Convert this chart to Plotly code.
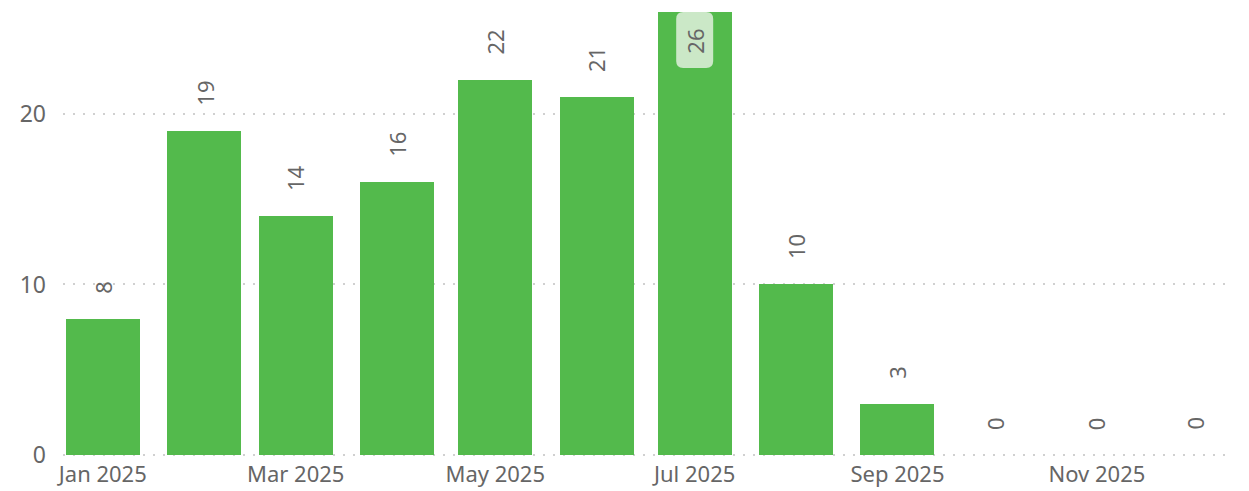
import plotly.graph_objects as go

months = ["2025-01-01", "2025-02-01", "2025-03-01", "2025-04-01", "2025-05-01", "2025-06-01",
          "2025-07-01", "2025-08-01", "2025-09-01", "2025-10-01", "2025-11-01", "2025-12-01"]
values = [8, 19, 14, 16, 22, 21, 26, 10, 3, 0, 0, 0]
y_ticks = [0, 10, 20]

GREEN = "#53BA4C"
TXT = "#666666"
FONT = "Noto Sans, Open Sans, sans-serif"
DAY = 86400000
OFF = 8  # default page body margin

fig = go.Figure()
fig.add_trace(go.Bar(
    x=months, y=values, marker_color=GREEN, marker_line_width=0,
    width=[22.6 * DAY] * len(values), hoverinfo="x+y",
))

ymax = 26.1
annotations = []
shapes = []
for m, v in zip(months, values):
    if v >= ymax - 1:
        x0, x1, y0, y1, r = -18.5, 18.5, -58, -2, 7
        path = (f"M {x0+r},{y1} L {x1-r},{y1} Q {x1},{y1} {x1},{y1-r} L {x1},{y0+r} "
                f"Q {x1},{y0} {x1-r},{y0} L {x0+r},{y0} Q {x0},{y0} {x0},{y0+r} "
                f"L {x0},{y1-r} Q {x0},{y1} {x0+r},{y1} Z")
        shapes.append(dict(type="path", xref="x", yref="y", xsizemode="pixel", ysizemode="pixel",
                           xanchor=m, yanchor=ymax, path=path, fillcolor="#CBE8C7",
                           line=dict(width=0), layer="above"))
        annotations.append(dict(
            x=m, y=ymax, text=str(v), textangle=-90, showarrow=False,
            yanchor="middle", yshift=-31, font=dict(size=22, color=TXT, family=FONT),
        ))
    else:
        annotations.append(dict(
            x=m, y=v, text=str(v), textangle=-90, showarrow=False,
            yanchor="bottom", yshift=23, font=dict(size=22, color=TXT, family=FONT),
        ))

fig.update_layout(
    width=1249 - OFF, height=491 - OFF,
    margin=dict(l=63 - OFF, r=21, t=10 - OFF, b=34, autoexpand=False),
    paper_bgcolor="white", plot_bgcolor="white",
    showlegend=False,
    font=dict(family=FONT, color=TXT),
    annotations=annotations,
    shapes=shapes,
    xaxis=dict(
        type="date", range=["2024-12-19 20:00", "2025-12-11 02:00"],
        dtick="M2", tick0="2025-01-01", tickformat="%b %Y", automargin=False,
        showgrid=False, zeroline=False, showline=False, ticks="",
        tickfont=dict(size=22, color=TXT, family=FONT), ticklabelstandoff=2,
    ),
    yaxis=dict(
        range=[-0.12, ymax], tickvals=y_ticks, showgrid=True, gridcolor="#D0D0D0",
        griddash="2px,8px", gridwidth=2, zeroline=False, showline=False, ticks="",
        automargin=False,
        tickfont=dict(size=23, color=TXT, family=FONT), ticklabelstandoff=16,
    ),
    bargap=0,
)

fig.write_html("out.html")
